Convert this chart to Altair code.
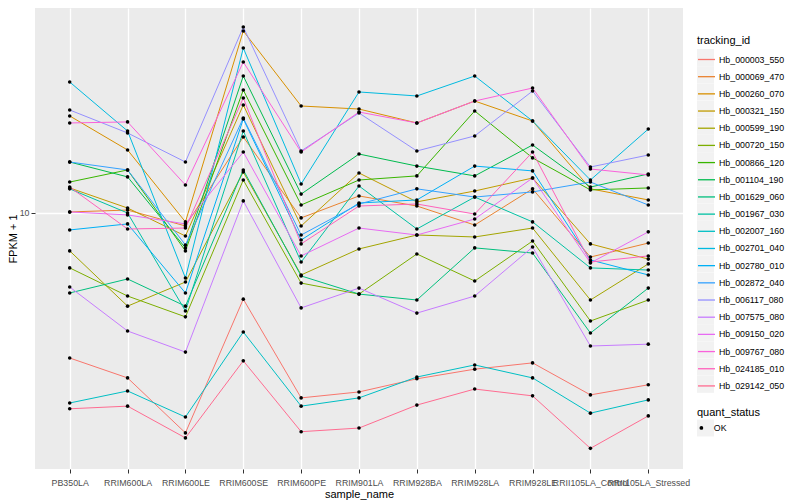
import altair as alt
import pandas as pd

samples = ["PB350LA", "RRIM600LA", "RRIM600LE", "RRIM600SE", "RRIM600PE", "RRIM901LA",
           "RRIM928BA", "RRIM928LA", "RRIM928LE", "RRII105LA_Control", "RRII105LA_Stressed"]

tracking_ids = ["Hb_000003_550", "Hb_000069_470", "Hb_000260_070", "Hb_000321_150",
                "Hb_000599_190", "Hb_000720_150", "Hb_000866_120", "Hb_001104_190",
                "Hb_001629_060", "Hb_001967_030", "Hb_002007_160", "Hb_002701_040",
                "Hb_002780_010", "Hb_002872_040", "Hb_006117_080", "Hb_007575_080",
                "Hb_009150_020", "Hb_009767_080", "Hb_024185_010", "Hb_029142_050"]

colors = ["#F8766D", "#EA8331", "#D89000", "#C09B00", "#A3A500", "#7CAE00", "#39B600",
          "#00BB4E", "#00BF7D", "#00C1A3", "#00BFC4", "#00BAE0", "#00B0F6", "#35A2FF",
          "#9590FF", "#C77CFF", "#E76BF3", "#FA62DB", "#FF62BC", "#FF6C91"]

hb_000003_550 = [4.34, 3.87, 2.82, 6.09, 3.45, 3.57, 3.85, 4.07, 4.22, 3.51, 3.72]
hb_000069_470 = [10.06, 10.17, 9.28, 15.49, 9.72, 11.03, 10.41, 9.33, 11.49, 7.76, 8.41]
hb_000260_070 = [17.48, 14.37, 9.50, 28.51, 18.51, 18.19, 16.79, 19.05, 16.98, 11.49, 10.78]
hb_000321_150 = [11.55, 10.29, 8.76, 18.62, 9.28, 12.59, 10.66, 11.35, 12.23, 8.37, 7.67]
hb_000599_190 = [8.04, 5.85, 6.72, 12.66, 7.00, 8.13, 8.81, 8.71, 9.17, 6.06, 7.46]
hb_000720_150 = [7.29, 6.20, 5.50, 12.09, 6.68, 6.27, 7.90, 6.76, 8.51, 5.37, 6.06]
hb_000866_120 = [11.95, 12.81, 8.04, 20.30, 10.47, 12.09, 12.38, 17.99, 13.73, 11.42, 11.55]
hb_001104_190 = [13.41, 12.31, 8.18, 22.00, 11.15, 14.04, 13.10, 12.38, 14.79, 11.61, 12.52]
hb_001629_060 = [6.31, 6.84, 5.85, 12.81, 6.96, 6.27, 6.06, 8.18, 7.94, 5.01, 6.49]
hb_001967_030 = [11.49, 10.00, 5.69, 16.03, 7.54, 11.68, 9.12, 10.96, 9.50, 7.29, 7.20]
hb_002007_160 = [3.35, 3.59, 3.09, 5.04, 3.29, 3.45, 3.89, 4.17, 3.87, 3.16, 3.41]
hb_002701_040 = [21.25, 16.03, 6.88, 25.84, 11.82, 20.07, 19.61, 22.00, 16.98, 12.09, 16.21]
hb_002780_010 = [9.07, 9.39, 6.31, 17.18, 8.56, 10.59, 10.78, 13.10, 12.74, 7.63, 7.00]
hb_002872_040 = [13.41, 12.81, 8.32, 17.28, 8.81, 10.53, 11.49, 10.96, 11.29, 11.95, 10.47]
hb_006117_080 = [18.09, 15.85, 13.41, 29.17, 14.29, 17.78, 14.29, 15.58, 20.18, 13.03, 13.96]
hb_007575_080 = [6.53, 5.07, 4.49, 10.72, 5.79, 6.49, 5.62, 6.20, 8.22, 4.65, 4.70]
hb_009150_020 = [10.06, 9.89, 9.39, 14.20, 7.81, 9.17, 8.81, 9.66, 12.23, 7.50, 8.97]
hb_009767_080 = [16.79, 16.89, 11.75, 23.84, 14.20, 17.88, 16.79, 19.05, 20.53, 12.88, 12.45]
hb_024185_010 = [11.61, 9.12, 9.17, 19.38, 8.37, 10.41, 10.53, 9.94, 14.20, 7.54, 7.81]
hb_029142_050 = [3.24, 3.29, 2.74, 4.27, 2.84, 2.90, 3.31, 3.63, 3.49, 2.58, 3.11]

series = [hb_000003_550, hb_000069_470, hb_000260_070, hb_000321_150, hb_000599_190,
          hb_000720_150, hb_000866_120, hb_001104_190, hb_001629_060, hb_001967_030,
          hb_002007_160, hb_002701_040, hb_002780_010, hb_002872_040, hb_006117_080,
          hb_007575_080, hb_009150_020, hb_009767_080, hb_024185_010, hb_029142_050]

y_domain = [2.291, 32.54]

rows = []
for tid, vals in zip(tracking_ids, series):
    for i, (s, v) in enumerate(zip(samples, vals)):
        rows.append({"tracking_id": tid, "key_id": tid, "sample_name": s, "idx": i,
                     "fpkm": v, "quant_status": "OK", "status_key": "OK"})
df = pd.DataFrame(rows)

FONT = "Liberation Sans"

x_enc = alt.X("sample_name:N", sort=samples,
              scale=alt.Scale(type="point", padding=0.6),
              axis=alt.Axis(title="sample_name", labelAngle=0, labelOverlap=False,
                            labelPadding=5, titlePadding=2, labelLimit=0))
y_enc = alt.Y("fpkm:Q",
              scale=alt.Scale(type="log", domain=y_domain, nice=False, zero=False),
              axis=alt.Axis(title="FPKM + 1", values=[10], format="d",
                            labelPadding=2, titlePadding=1))

text_style = dict(titleFontSize=11, labelFontSize=8.8, padding=0,
                  titleFont=FONT, labelFont=FONT, titleFontWeight="normal",
                  labelColor="black", titleColor="black")

# grey key backgrounds for the tracking_id legend
keys = alt.Chart(df).mark_square(size=1, opacity=1).encode(
    x=x_enc, y=y_enc,
    fill=alt.Fill("key_id:N", sort=tracking_ids,
                  scale=alt.Scale(range=["#F2F2F2"] * len(tracking_ids)),
                  legend=alt.Legend(orient="none", legendX=662, legendY=27,
                                    title="tracking_id", titlePadding=3, rowPadding=0.2,
                                    symbolSize=289, labelOffset=3, labelExpr="''",
                                    symbolType="square", symbolStrokeWidth=0,
                                    titleOpacity=0, labelOpacity=0, zindex=0,
                                    **text_style)),
)

# grey key background for the quant_status legend
status_keys = alt.Chart(df).mark_square(size=1, color="#F2F2F2").encode(
    x=x_enc, y=y_enc,
    opacity=alt.Opacity("status_key:O", scale=alt.Scale(range=[1, 1]),
                        legend=alt.Legend(orient="none", legendX=662, legendY=398.5,
                                          title="quant_status", titlePadding=2,
                                          symbolSize=289, labelOffset=3, labelExpr="''",
                                          symbolType="square", symbolStrokeWidth=0,
                                          symbolFillColor="#F2F2F2",
                                          titleOpacity=0, labelOpacity=0, zindex=0,
                                          **text_style)),
)

lines = alt.Chart(df).mark_line(strokeWidth=1).encode(
    x=x_enc, y=y_enc,
    color=alt.Color("tracking_id:N", sort=tracking_ids,
                    scale=alt.Scale(range=colors),
                    legend=alt.Legend(orient="none", legendX=662, legendY=27,
                                      title="tracking_id", titlePadding=4,
                                      rowPadding=2.18, symbolSize=289, labelOffset=3,
                                      symbolType="stroke", symbolStrokeWidth=1.3,
                                      zindex=1, **text_style)),
    order=alt.Order("idx:Q"),
)

points = alt.Chart(df).mark_point(filled=True, color="black", size=13, opacity=1).encode(
    x=x_enc, y=y_enc,
    shape=alt.Shape("quant_status:N", scale=alt.Scale(range=["circle"]),
                    legend=alt.Legend(orient="none", legendX=662, legendY=398.5,
                                      title="quant_status", titlePadding=6, symbolSize=14,
                                      labelOffset=8, zindex=1, **text_style)),
)

chart = alt.layer(keys, status_keys, lines, points).properties(
    width=648, height=461,
    padding={"left": 27, "top": 0, "right": 105, "bottom": 40},
    autosize=alt.AutoSizeParams(type="none"),
    background="white",
).configure_view(
    fill="#EBEBEB", stroke=None
).configure_axis(
    labelFont=FONT, titleFont=FONT, labelFontSize=8.8, titleFontSize=11,
    labelColor="#4D4D4D", titleColor="black", titleFontWeight="normal",
    tickColor="#333333", tickSize=4, domain=False,
    gridColor="white", gridWidth=1.3, grid=True,
)

chart.save("out.html", embed_options={"renderer": "svg", "actions": False})
